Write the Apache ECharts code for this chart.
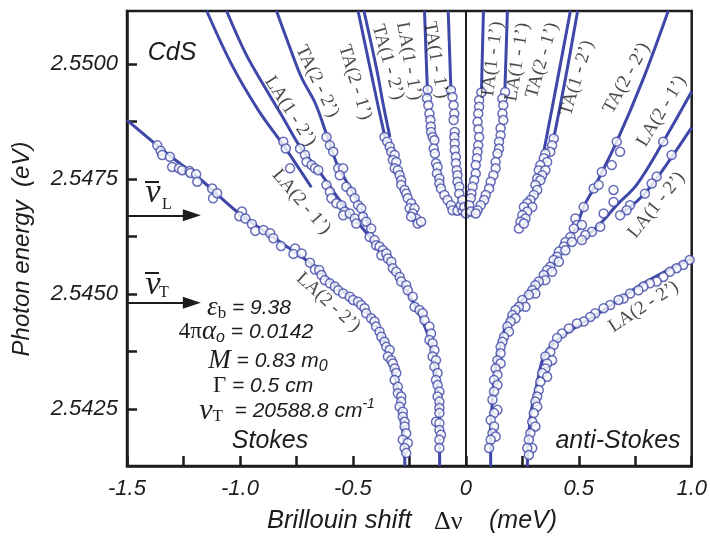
<!DOCTYPE html>
<html>
<head>
<meta charset="utf-8">
<script src="https://cdn.jsdelivr.net/npm/echarts@6/dist/echarts.min.js"></script>
<style>
  html, body { margin: 0; padding: 0; background: #ffffff; }
  #main { width: 710px; height: 536px; }
</style>
</head>
<body>
<div id="main"></div>
<script>
// ---- axes ----
const xRange = [-1.5, 1.0];
const yRange = [2.54126, 2.55115];
const xTickValues = [-1.5, -1.25, -1, -0.75, -0.5, -0.25, 0, 0.25, 0.5, 0.75, 1];
const xLabelValues = [-1.5, -1, -0.5, 0, 0.5, 1];
const yTickValues = [2.5425, 2.54375, 2.545, 2.54625, 2.5475, 2.54875, 2.55];
const yLabelValues = [2.5425, 2.545, 2.5475, 2.55];

// longitudinal / transverse exciton energies (arrows on the left)
const nuL = 2.54671;
const nuT = 2.54481;
const arrowEnd = -1.213;

// ---- Stokes side: measured peaks ----
const stokesLA22Pts = [[-1.366,2.54823],[-1.351,2.54811],[-1.344,2.54802],[-1.310,2.54798],[-1.300,2.54776],[-1.270,2.54773],[-1.256,2.54769],[-1.223,2.54767],[-1.219,2.54763],[-1.194,2.54760],[-1.189,2.54744],[-1.123,2.54729],[-1.119,2.54708],[-1.101,2.54719],[-0.991,2.54679],[-1.003,2.54669],[-0.976,2.54664],[-0.947,2.54652],[-0.932,2.54637],[-0.896,2.54639],[-0.866,2.54632],[-0.852,2.54621],[-0.818,2.54604],[-0.756,2.54599],[-0.763,2.54587],[-0.727,2.54588],[-0.690,2.54568],[-0.668,2.54553],[-0.649,2.54552],[-0.639,2.54541],[-0.624,2.54530],[-0.602,2.54523],[-0.580,2.54516],[-0.565,2.54508],[-0.543,2.54501],[-0.514,2.54494],[-0.499,2.54487],[-0.477,2.54483],[-0.463,2.54476],[-0.448,2.54469],[-0.441,2.54458],[-0.419,2.54447],[-0.404,2.54440],[-0.397,2.54429],[-0.382,2.54418],[-0.374,2.54407],[-0.360,2.54396],[-0.352,2.54385],[-0.337,2.54378],[-0.345,2.54364],[-0.330,2.54356],[-0.323,2.54349],[-0.315,2.54338],[-0.308,2.54328],[-0.315,2.54313],[-0.301,2.54298],[-0.301,2.54284],[-0.286,2.54277],[-0.286,2.54266],[-0.293,2.54255],[-0.279,2.54244],[-0.279,2.54233],[-0.271,2.54222],[-0.271,2.54212],[-0.264,2.54197],[-0.279,2.54183],[-0.257,2.54176],[-0.271,2.54165],[-0.264,2.54154]];
const stokesLA21Pts = [[-0.808,2.54831],[-0.797,2.54816],[-0.778,2.54773]];
const stokesLA12Pts = [[-0.734,2.54816],[-0.712,2.54802],[-0.705,2.54787],[-0.683,2.54780],[-0.668,2.54773],[-0.653,2.54769],[-0.617,2.54737],[-0.602,2.54722],[-0.595,2.54708],[-0.573,2.54697],[-0.551,2.54693],[-0.536,2.54679],[-0.543,2.54671],[-0.514,2.54675],[-0.492,2.54664],[-0.485,2.54653]];
const stokesTA22Pts = [[-0.617,2.54841],[-0.602,2.54823],[-0.587,2.54809],[-0.565,2.54773],[-0.543,2.54773],[-0.558,2.54758],[-0.529,2.54733],[-0.507,2.54722],[-0.492,2.54708],[-0.477,2.54693],[-0.463,2.54686],[-0.455,2.54668],[-0.441,2.54657],[-0.419,2.54642]];
const stokesLowerPts = [[-0.426,2.54624],[-0.404,2.54617],[-0.397,2.54606],[-0.382,2.54603],[-0.367,2.54595],[-0.374,2.54584],[-0.352,2.54588],[-0.345,2.54577],[-0.330,2.54570],[-0.323,2.54556],[-0.308,2.54548],[-0.293,2.54537],[-0.286,2.54527],[-0.264,2.54519],[-0.257,2.54508],[-0.235,2.54494],[-0.227,2.54472],[-0.205,2.54465],[-0.191,2.54458],[-0.183,2.54443],[-0.161,2.54429],[-0.154,2.54414],[-0.161,2.54400],[-0.147,2.54393],[-0.139,2.54378],[-0.147,2.54364],[-0.132,2.54356],[-0.139,2.54342],[-0.125,2.54328],[-0.132,2.54313],[-0.125,2.54302],[-0.117,2.54288],[-0.125,2.54277],[-0.117,2.54266],[-0.117,2.54252],[-0.117,2.54241],[-0.132,2.54222],[-0.117,2.54219],[-0.117,2.54204],[-0.110,2.54194],[-0.117,2.54183],[-0.117,2.54165]];
const stokesTA12Pts = [[-0.360,2.54841],[-0.348,2.54831],[-0.337,2.54820],[-0.330,2.54809],[-0.315,2.54802],[-0.323,2.54791],[-0.308,2.54787],[-0.315,2.54773],[-0.301,2.54769],[-0.293,2.54758],[-0.286,2.54747],[-0.286,2.54737],[-0.271,2.54726],[-0.264,2.54718],[-0.257,2.54708],[-0.242,2.54697],[-0.249,2.54686],[-0.227,2.54686],[-0.235,2.54675],[-0.220,2.54664],[-0.213,2.54653],[-0.198,2.54657],[-0.242,2.54668]];
const stokesLA11Pts = [[-0.169,2.54944],[-0.172,2.54925],[-0.166,2.54910],[-0.161,2.54892],[-0.157,2.54878],[-0.155,2.54864],[-0.154,2.54852],[-0.147,2.54841],[-0.139,2.54834],[-0.142,2.54816],[-0.137,2.54805],[-0.132,2.54784],[-0.125,2.54776],[-0.128,2.54762],[-0.117,2.54751],[-0.117,2.54740],[-0.110,2.54729],[-0.095,2.54715],[-0.081,2.54704],[-0.066,2.54693],[-0.059,2.54682],[-0.037,2.54681],[-0.015,2.54682],[-0.022,2.54693]];
const stokesTA11Pts = [[-0.066,2.54943],[-0.059,2.54928],[-0.054,2.54910],[-0.051,2.54892],[-0.054,2.54878],[-0.049,2.54852],[-0.051,2.54841],[-0.049,2.54827],[-0.049,2.54813],[-0.044,2.54798],[-0.044,2.54784],[-0.040,2.54769],[-0.037,2.54758],[-0.037,2.54744],[-0.029,2.54733],[-0.029,2.54718],[-0.015,2.54704],[-0.007,2.54689],[0.000,2.54675]];

// ---- anti-Stokes side: measured peaks ----
const antiTA11Pts = [[0.069,2.54938],[0.059,2.54921],[0.059,2.54907],[0.055,2.54892],[0.052,2.54874],[0.056,2.54858],[0.059,2.54841],[0.055,2.54823],[0.052,2.54809],[0.049,2.54795],[0.044,2.54780],[0.044,2.54762],[0.037,2.54747],[0.030,2.54733],[0.025,2.54718],[0.022,2.54708],[0.015,2.54693],[0.022,2.54679]];
const antiLA11Pts = [[0.174,2.54939],[0.162,2.54925],[0.166,2.54910],[0.162,2.54892],[0.166,2.54878],[0.154,2.54860],[0.154,2.54845],[0.147,2.54831],[0.147,2.54816],[0.140,2.54805],[0.132,2.54787],[0.132,2.54773],[0.122,2.54758],[0.110,2.54744],[0.103,2.54729],[0.088,2.54715],[0.081,2.54704],[0.066,2.54693],[0.052,2.54682],[0.044,2.54675]];
const antiTA12Pts = [[0.389,2.54838],[0.382,2.54823],[0.374,2.54809],[0.352,2.54805],[0.345,2.54795],[0.360,2.54787],[0.330,2.54780],[0.323,2.54769],[0.352,2.54769],[0.338,2.54758],[0.316,2.54751],[0.330,2.54747],[0.308,2.54737],[0.316,2.54726],[0.301,2.54715],[0.286,2.54704],[0.272,2.54697],[0.294,2.54689],[0.257,2.54689],[0.272,2.54679],[0.250,2.54671],[0.264,2.54664],[0.242,2.54657],[0.235,2.54642],[0.257,2.54653]];
const antiTA22Pts = [[0.668,2.54831],[0.683,2.54809],[0.646,2.54780],[0.602,2.54765],[0.566,2.54729],[0.588,2.54737],[0.522,2.54689],[0.485,2.54664],[0.492,2.54650],[0.514,2.54650],[0.478,2.54642],[0.463,2.54624],[0.441,2.54613],[0.470,2.54613],[0.434,2.54603],[0.412,2.54592],[0.441,2.54595],[0.404,2.54581],[0.389,2.54574],[0.412,2.54570],[0.374,2.54559],[0.360,2.54552],[0.382,2.54548],[0.345,2.54541],[0.352,2.54530],[0.323,2.54527],[0.308,2.54519],[0.294,2.54508],[0.308,2.54501],[0.279,2.54498],[0.250,2.54487],[0.264,2.54472],[0.235,2.54472],[0.220,2.54465],[0.206,2.54454],[0.220,2.54447],[0.198,2.54440],[0.184,2.54429],[0.191,2.54418],[0.169,2.54407],[0.162,2.54396],[0.154,2.54385],[0.154,2.54371],[0.140,2.54356],[0.154,2.54349],[0.132,2.54338],[0.140,2.54324],[0.125,2.54313],[0.140,2.54302],[0.125,2.54288],[0.118,2.54270],[0.140,2.54248],[0.125,2.54241],[0.110,2.54226],[0.125,2.54212],[0.118,2.54197],[0.132,2.54190],[0.110,2.54183],[0.103,2.54165]];
const antiLA21Pts = [[0.874,2.54831],[0.654,2.54726],[0.654,2.54700],[0.610,2.54675],[0.595,2.54646],[0.558,2.54635],[0.529,2.54628],[0.514,2.54617]];
const antiLA12Pts = [[0.911,2.54802],[0.845,2.54755],[0.823,2.54740],[0.793,2.54718],[0.727,2.54693],[0.712,2.54682],[0.683,2.54671]];
const antiLA22Pts = [[0.991,2.54574],[0.962,2.54563],[0.933,2.54556],[0.903,2.54548],[0.874,2.54537],[0.845,2.54527],[0.815,2.54523],[0.786,2.54516],[0.764,2.54508],[0.727,2.54501],[0.698,2.54490],[0.676,2.54487],[0.639,2.54476],[0.610,2.54469],[0.573,2.54458],[0.551,2.54450],[0.522,2.54440],[0.492,2.54436],[0.456,2.54425],[0.426,2.54414],[0.404,2.54404],[0.389,2.54389],[0.374,2.54374],[0.352,2.54364],[0.382,2.54356],[0.360,2.54349],[0.352,2.54338],[0.338,2.54328],[0.360,2.54320],[0.330,2.54309],[0.323,2.54291],[0.316,2.54277],[0.308,2.54266],[0.316,2.54255],[0.301,2.54241],[0.294,2.54222],[0.308,2.54212],[0.286,2.54197],[0.279,2.54183],[0.294,2.54165],[0.272,2.54165],[0.279,2.54150]];

// ---- calculated dispersion branches ----
const stokesLA22Line = [[-1.5,2.54878],[-1.314,2.54802],[-1.182,2.54752],[-1.006,2.54676],[-0.816,2.54611],[-0.684,2.54565],[-0.565,2.54513],[-0.477,2.54482],[-0.398,2.54435],[-0.345,2.54378],[-0.310,2.54313],[-0.288,2.54248],[-0.274,2.54183],[-0.270,2.54126]];
const stokesLA21Line = [[-1.147,2.55115],[-1.037,2.54999],[-0.918,2.54899],[-0.799,2.54817],[-0.684,2.54732]];
const stokesLA12Line = [[-1.059,2.55115],[-0.975,2.55023],[-0.887,2.54947],[-0.808,2.54882],[-0.733,2.54819],[-0.653,2.54769],[-0.565,2.54708],[-0.486,2.54660],[-0.429,2.54626],[-0.367,2.54591],[-0.310,2.54548],[-0.257,2.54504],[-0.204,2.54454],[-0.160,2.54400],[-0.134,2.54335],[-0.120,2.54270],[-0.116,2.54204],[-0.116,2.54126]];
const stokesTA22Line = [[-0.838,2.55115],[-0.786,2.55045],[-0.728,2.54971],[-0.667,2.54915],[-0.618,2.54849],[-0.565,2.54776],[-0.499,2.54721],[-0.455,2.54678],[-0.420,2.54639]];
const stokesTA21Line = [[-0.477,2.55115],[-0.420,2.54982],[-0.389,2.54910],[-0.358,2.54841]];
const stokesTA12Line = [[-0.451,2.55115],[-0.392,2.54982],[-0.365,2.54910],[-0.336,2.54841]];
const stokesLA11Line = [[-0.183,2.55115],[-0.169,2.54928]];
const stokesTA11Line = [[-0.078,2.55115],[-0.066,2.54943]];
const antiTA11Line = [[0.078,2.55115],[0.069,2.54939]];
const antiLA11Line = [[0.184,2.55115],[0.173,2.54943]];
const antiTA21Line = [[0.463,2.55115],[0.404,2.54961],[0.345,2.54809]];
const antiTA12Line = [[0.495,2.55115],[0.441,2.54968],[0.389,2.54838]];
const antiTA22Line = [[0.896,2.55115],[0.786,2.54968],[0.668,2.54831],[0.566,2.54729],[0.523,2.54691],[0.492,2.54650],[0.452,2.54615],[0.417,2.54591],[0.369,2.54556],[0.316,2.54526],[0.250,2.54487],[0.193,2.54448],[0.157,2.54400],[0.132,2.54342],[0.118,2.54270],[0.110,2.54197],[0.110,2.54125]];
const antiLA21Line = [[1.0,2.54940],[0.874,2.54831],[0.756,2.54737],[0.668,2.54693],[0.602,2.54656],[0.507,2.54613]];
const antiLA12Line = [[1.0,2.54862],[0.918,2.54802],[0.845,2.54751],[0.786,2.54715],[0.727,2.54689],[0.683,2.54675]];
const antiLA22Line = [[1.0,2.54578],[0.786,2.54523],[0.610,2.54465],[0.492,2.54429],[0.404,2.54400],[0.345,2.54364],[0.316,2.54306],[0.286,2.54233],[0.272,2.54125]];

// branch names written along the curves
const branchLabels = [
  { text: 'LA(2 - 2’)', at: [-0.609, 2.54482], angle: -42 },
  { text: 'LA(2 - 1’)', at: [-0.728, 2.54700], angle: -49 },
  { text: 'LA(1 - 2’)', at: [-0.777, 2.54897], angle: -57 },
  { text: 'TA(2 - 2’)', at: [-0.658, 2.54962], angle: -64 },
  { text: 'TA(2 - 1’)', at: [-0.490, 2.54960], angle: -73 },
  { text: 'TA(1 - 2’)', at: [-0.345, 2.55004], angle: -74 },
  { text: 'LA(1 - 1’)', at: [-0.252, 2.55006], angle: -80 },
  { text: 'TA(1 - 1’)', at: [-0.133, 2.55008], angle: -80 },
  { text: 'TA(1 - 1’)', at: [0.118, 2.55008], angle: 83 },
  { text: 'LA(1 - 1’)', at: [0.228, 2.55004], angle: 81 },
  { text: 'TA(2 - 1’)', at: [0.338, 2.55008], angle: 74 },
  { text: 'TA(1 - 2’)', at: [0.492, 2.54969], angle: 73 },
  { text: 'TA(2 - 2’)', at: [0.712, 2.54969], angle: 61 },
  { text: 'LA(2 - 1’)', at: [0.867, 2.54897], angle: 59 },
  { text: 'LA(1 - 2’)', at: [0.844, 2.54693], angle: 51 },
  { text: 'LA(2 - 2’)', at: [0.787, 2.54472], angle: 33 }
];

// ---- styling ----
const BLUE = '#3f47a8';
const INK = '#1c1c1c';
const SANS = '"Liberation Sans", Arial, sans-serif';
const SERIF = '"Liberation Serif", "Times New Roman", serif';

const curveSets = [stokesLA22Line, stokesLA21Line, stokesLA12Line, stokesTA22Line, stokesTA21Line,
  stokesTA12Line, stokesLA11Line, stokesTA11Line, antiTA11Line, antiLA11Line, antiTA21Line,
  antiTA12Line, antiTA22Line, antiLA21Line, antiLA12Line, antiLA22Line];
const pointSets = [stokesLA22Pts, stokesLA21Pts, stokesLA12Pts, stokesTA22Pts, stokesLowerPts,
  stokesTA12Pts, stokesLA11Pts, stokesTA11Pts, antiTA11Pts, antiLA11Pts, antiTA12Pts,
  antiTA22Pts, antiLA21Pts, antiLA12Pts, antiLA22Pts];

function curveSeries(data) {
  return {
    type: 'line', data: data, smooth: 0.35, symbol: 'none', showSymbol: false,
    lineStyle: { color: BLUE, width: 3 }, z: 2, silent: true, animation: false, clip: true
  };
}
function pointSeries(data) {
  return {
    type: 'scatter', data: data, symbol: 'circle', symbolSize: 9,
    itemStyle: { color: '#ffffff', borderColor: BLUE, borderWidth: 1.5 },
    z: 3, silent: true, animation: false
  };
}

const series = curveSets.map(curveSeries).concat(pointSets.map(pointSeries));

// zero-shift line and the two exciton arrows
series[0].markLine = {
  silent: true, animation: false, symbol: 'none', label: { show: false },
  data: [
    { xAxis: 0, lineStyle: { color: INK, width: 2, type: 'solid' } },
    [{ coord: [xRange[0], nuL], symbol: 'none', lineStyle: { color: INK, width: 2, type: 'solid' } },
     { coord: [arrowEnd, nuL], symbol: 'triangle', symbolSize: [12, 18] }],
    [{ coord: [xRange[0], nuT], symbol: 'none', lineStyle: { color: INK, width: 2, type: 'solid' } },
     { coord: [arrowEnd, nuT], symbol: 'triangle', symbolSize: [12, 18] }]
  ],
  itemStyle: { color: INK }
};

series.push({
  type: 'scatter', silent: true, animation: false, z: 5,
  symbolSize: 1, itemStyle: { color: 'rgba(0,0,0,0)' },
  data: branchLabels.map(l => ({ value: l.at, name: l.text, label: { rotate: l.angle } })),
  label: {
    show: true, position: 'inside', formatter: '{b}',
    fontFamily: SERIF, fontSize: 19, color: INK
  }
});

const richBlock = {
  t:   { fontFamily: SANS, fontStyle: 'italic', fontSize: 21, color: INK, lineHeight: 28 },
  gi:  { fontFamily: SERIF, fontStyle: 'italic', fontSize: 27, color: INK, lineHeight: 28 },
  nu:  { fontFamily: SERIF, fontStyle: 'italic', fontSize: 30, color: INK, lineHeight: 28 },
  gu:  { fontFamily: SERIF, fontSize: 23, color: INK, lineHeight: 28 },
  sbu: { fontFamily: SERIF, fontSize: 17, color: INK, verticalAlign: 'bottom', lineHeight: 17 },
  sbi: { fontFamily: SANS, fontStyle: 'italic', fontSize: 16, color: INK, verticalAlign: 'bottom', lineHeight: 16 },
  sup: { fontFamily: SANS, fontStyle: 'italic', fontSize: 14, color: INK, verticalAlign: 'top', lineHeight: 14 }
};
function txt(x, y, text) {
  return {
    type: 'text', x: x, y: y, silent: true, z: 10,
    style: { text: text, rich: richBlock, align: 'center', verticalAlign: 'middle', fill: INK }
  };
}
function plain(x, y, text, style, extra) {
  return Object.assign({
    type: 'text', x: x, y: y, silent: true, z: 10,
    style: Object.assign({ text: text, fill: INK, verticalAlign: 'middle', align: 'center' }, style)
  }, extra || {});
}
const italicSans = (size) => ({ fontFamily: SANS, fontStyle: 'italic', fontSize: size });
const serifStyle = (size, italic) => ({ fontFamily: SERIF, fontStyle: italic ? 'italic' : 'normal', fontSize: size });

const chart = echarts.init(document.getElementById('main'), null, { renderer: 'canvas' });
chart.setOption({
  animation: false,
  backgroundColor: '#ffffff',
  grid: { left: 127, top: 11, width: 568, height: 455, show: true, borderColor: INK, borderWidth: 2.5, backgroundColor: 'transparent' },
  xAxis: {
    type: 'value', min: xRange[0], max: xRange[1], interval: 0.25,
    axisLine: { show: true, onZero: false, lineStyle: { color: INK, width: 2.5 } },
    axisTick: { show: true, inside: true, length: 10, customValues: xTickValues, lineStyle: { color: INK, width: 2.5 } },
    axisLabel: {
      customValues: xLabelValues, margin: 12, fontFamily: SANS, fontStyle: 'italic', fontSize: 22, color: INK,
      formatter: v => (v === 0 ? '0' : v.toFixed(1))
    },
    splitLine: { show: false }
  },
  yAxis: {
    type: 'value', min: yRange[0], max: yRange[1],
    axisLine: { show: true, onZero: false, lineStyle: { color: INK, width: 2.5 } },
    axisTick: { show: true, inside: true, length: 10, customValues: yTickValues, lineStyle: { color: INK, width: 2.5 } },
    axisLabel: {
      customValues: yLabelValues, margin: 9, fontFamily: SANS, fontStyle: 'italic', fontSize: 22, color: INK,
      formatter: v => v.toFixed(4)
    },
    splitLine: { show: false }
  },
  series: series,
  graphic: [
    // axis titles
    plain(22, 249, 'Photon energy  (eV)', italicSans(24), { rotation: Math.PI / 2 }),
    plain(267, 521, 'Brillouin shift', Object.assign(italicSans(25.5), { align: 'left' })),
    plain(434, 522, 'Δν', Object.assign(serifStyle(26, false), { align: 'left' })),
    plain(489, 521, '(meV)', Object.assign(italicSans(25), { align: 'left' })),
    // panel captions
    plain(172, 53, 'CdS', italicSans(25)),
    plain(270, 441, 'Stokes', italicSans(25)),
    plain(618, 441, 'anti-Stokes', italicSans(25)),
    // exciton arrow labels (nu with overbar)
    plain(153, 193, 'ν', serifStyle(34, true)),
    plain(167, 205, 'L', serifStyle(16, false)),
    { type: 'line', silent: true, shape: { x1: 145, y1: 182, x2: 159, y2: 182 }, style: { stroke: INK, lineWidth: 2 } },
    plain(153, 285, 'ν', serifStyle(34, true)),
    plain(164, 293, 'T', serifStyle(16, false)),
    { type: 'line', silent: true, shape: { x1: 145, y1: 273, x2: 159, y2: 273 }, style: { stroke: INK, lineWidth: 2 } },
    // fit parameters
    txt(249, 308, '{gi|ε}{sbu|b}{t| = 9.38}'),
    txt(246, 332, '{gu|4π}{gi|α}{sbi|o}{t| = 0.0142}'),
    txt(268, 361, '{gi|M}{t| = 0.83 m}{sbi|0}'),
    txt(263, 386, '{gu|Γ}{t| = 0.5 cm}'),
    txt(287, 411, '{nu|ν}{sbu|T}{t|  = 20588.8 cm}{sup|-1}')
  ]
});
</script>
</body>
</html>
